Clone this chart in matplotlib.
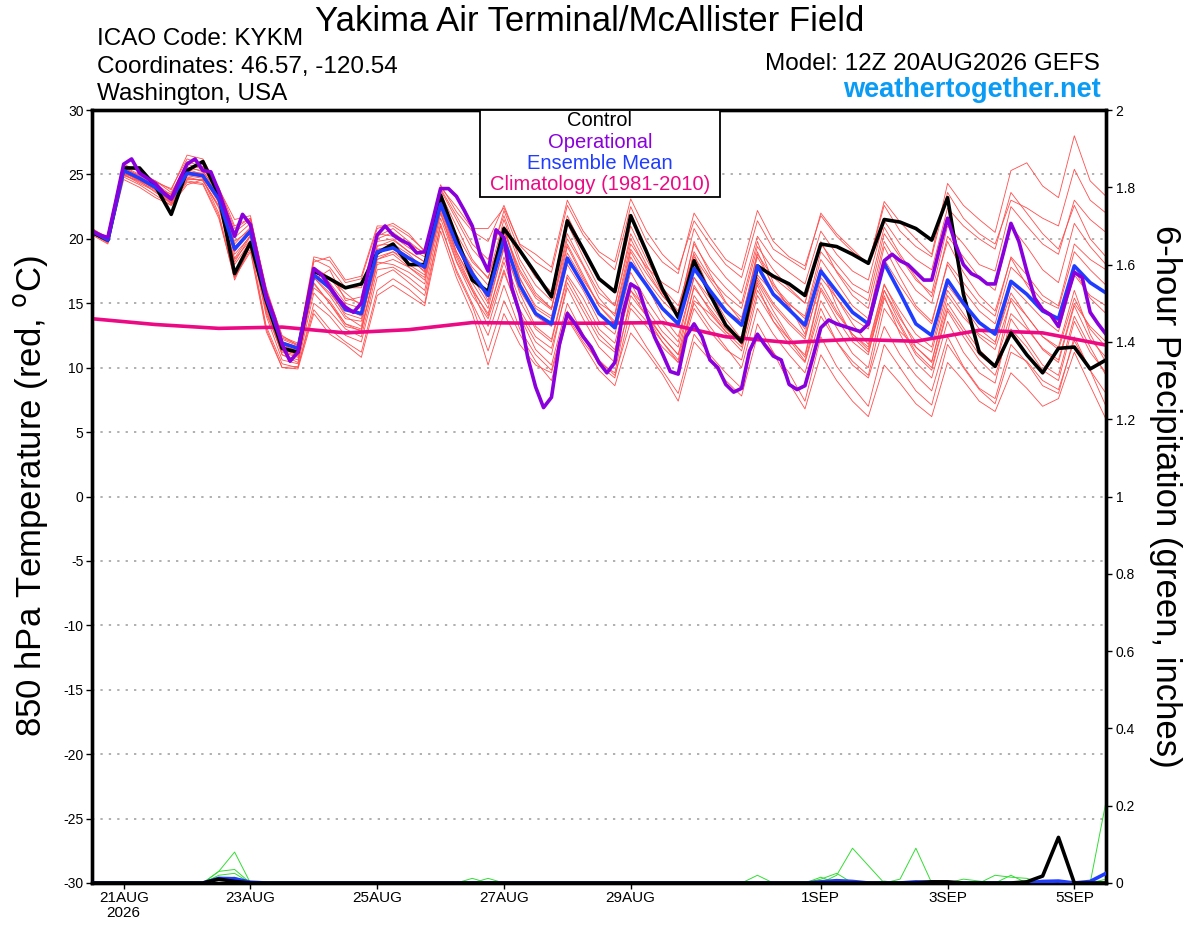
import numpy as np
import matplotlib
matplotlib.use("Agg")
import matplotlib.pyplot as plt
from matplotlib.patches import Rectangle

plt.rcParams['font.family'] = ['Liberation Sans', 'DejaVu Sans']

# ---------------- data ----------------
title = "Yakima Air Terminal/McAllister Field"
info_left = ["ICAO Code: KYKM", "Coordinates: 46.57, -120.54", "Washington, USA"]
model_text = "Model: 12Z 20AUG2026 GEFS"
site_text = "weathertogether.net"

# hours since 12Z 20 Aug 2026
hours6 = [6 * k for k in range(65)]
hours3 = [3 * k for k in range(129)]
hours24 = [24 * k for k in range(17)]

tick_hours = [12, 60, 108, 156, 204, 276, 324, 372]
tick_labels = ["21AUG\n2026", "23AUG", "25AUG", "27AUG", "29AUG", "1SEP", "3SEP", "5SEP"]

control = [20.5, 19.9, 25.5, 25.5, 24.1, 21.9, 25.3, 26.0, 23.4, 17.3, 19.7, 15.2, 11.5,
           11.2, 17.5, 16.9, 16.2, 16.5, 18.9, 19.6, 18.0, 18.0, 23.4, 20.1, 16.8, 15.9,
           20.8, 19.1, 17.3, 15.5, 21.4, 19.2, 16.9, 15.9, 21.8, 19.0, 16.1, 13.9, 18.3,
           15.7, 13.3, 12.0, 17.9, 17.1, 16.5, 15.6, 19.6, 19.4, 18.8, 18.1, 21.5, 21.3,
           20.8, 19.9, 23.2, 15.7, 11.2, 10.1, 12.7, 11.0, 9.6, 11.5, 11.6, 9.9, 10.6]

ens_mean = [20.6, 19.9, 25.3, 24.7, 24.0, 23.1, 25.1, 24.9, 23.1, 19.2, 20.6, 15.4, 11.9,
            11.5, 17.2, 16.2, 14.5, 14.2, 19.0, 19.3, 18.5, 17.8, 22.7, 19.6, 17.3, 15.6,
            20.0, 16.4, 14.2, 13.4, 18.5, 16.4, 14.2, 13.1, 18.1, 16.4, 14.6, 13.4, 17.7,
            16.0, 14.4, 13.3, 17.9, 15.7, 14.5, 13.3, 17.5, 15.9, 14.3, 13.4, 18.1, 15.8,
            13.4, 12.5, 16.8, 15.0, 13.5, 12.6, 16.7, 15.7, 14.4, 13.8, 17.9, 16.6, 15.8]

operational = [20.6, 20.3, 20.1, 22.9, 25.8, 26.2, 25.1, 24.7, 24.3, 23.6, 23.1, 24.5, 25.8,
               26.2, 25.3, 25.2, 23.7, 21.9, 20.2, 21.9, 21.1, 18.3, 15.6, 13.9, 11.8, 10.5,
               11.2, 14.4, 17.7, 17.2, 16.3, 15.4, 14.7, 14.3, 15.0, 17.8, 20.3, 21.0, 20.3,
               19.9, 19.6, 18.9, 19.0, 21.4, 23.9, 23.9, 23.3, 22.2, 21.0, 18.8, 17.5, 20.7,
               20.1, 16.2, 14.2, 10.8, 8.5, 6.9, 7.7, 11.8, 14.2, 13.4, 12.4, 11.6, 10.4,
               9.6, 10.4, 14.2, 16.5, 16.1, 14.2, 12.4, 11.1, 9.7, 9.5, 12.4, 13.4, 12.4,
               10.6, 10.0, 8.7, 8.1, 8.4, 11.3, 12.6, 11.7, 10.9, 10.6, 8.7, 8.3, 8.6,
               10.8, 13.1, 13.7, 13.4, 13.2, 13.0, 12.8, 13.4, 15.9, 18.3, 18.8, 18.3, 18.0,
               17.4, 16.8, 16.8, 19.3, 21.6, 19.6, 18.0, 17.3, 17.0, 16.5, 16.5, 18.8, 21.2,
               19.8, 17.5, 15.4, 14.5, 14.1, 13.2, 15.4, 17.4, 17.0, 14.3, 13.4, 12.6]

climatology = [13.8, 13.35, 13.05, 13.15, 12.7, 12.95, 13.5, 13.45, 13.45, 13.5, 12.4,
               11.95, 12.2, 12.05, 12.9, 12.7, 11.75]

members = [
    [20.8, 20.1, 25.8, 25.2, 24.5, 23.8, 26.5, 26.2, 23.9, 21.5, 21.8, 15.9, 12.3,
     11.8, 18.6, 18.3, 16.6, 16.9, 20.8, 21.2, 20.4, 19.0, 24.2, 22.1, 20.6, 19.8,
     22.6, 19.5, 18.2, 17.4, 22.6, 20.3, 18.7, 17.6, 22.5, 19.8, 18.2, 17.3, 22.0,
     20.1, 18.4, 17.6, 22.2, 19.8, 18.6, 17.9, 21.8, 20.2, 19.0, 18.0, 22.9, 21.3,
     20.0, 18.8, 24.3, 22.6, 21.5, 20.5, 25.3, 25.9, 24.1, 23.2, 28.0, 24.5, 23.3],
    [20.3, 19.6, 24.6, 24.0, 23.2, 22.6, 24.2, 24.6, 22.0, 17.0, 19.2, 13.0, 10.0,
     10.1, 14.5, 13.0, 12.0, 11.2, 16.0, 16.9, 16.1, 15.0, 21.2, 17.4, 14.8, 11.3,
     15.2, 12.6, 10.5, 9.0, 13.8, 11.8, 9.8, 8.6, 12.7, 11.2, 9.5, 7.4, 12.0,
     10.6, 9.0, 7.8, 12.5, 11.2, 9.6, 7.4, 12.4, 10.1, 8.5, 7.0, 11.8, 10.0,
     8.2, 7.1, 11.8, 10.0, 8.3, 7.2, 11.2, 10.5, 9.0, 8.3, 12.1, 9.8, 8.0],
    [20.7, 20.0, 25.5, 24.9, 24.2, 23.3, 25.6, 25.2, 23.7, 20.1, 21.2, 15.0, 11.4,
     11.0, 16.8, 17.6, 15.2, 15.5, 20.0, 20.5, 19.6, 18.9, 23.5, 21.0, 18.4, 16.9,
     21.5, 18.0, 15.8, 14.6, 20.0, 17.9, 15.4, 14.0, 19.2, 17.3, 15.6, 14.2, 19.8,
     17.3, 15.1, 13.6, 19.0, 16.2, 14.8, 12.6, 17.6, 15.4, 13.4, 11.8, 16.5, 14.0,
     11.6, 10.5, 15.0, 13.1, 11.4, 10.2, 14.2, 13.0, 11.5, 10.6, 15.0, 13.2, 12.0],
    [20.5, 19.8, 25.0, 24.4, 23.8, 22.9, 24.8, 24.5, 22.6, 18.5, 20.3, 14.6, 11.0,
     10.4, 16.5, 15.0, 13.4, 12.8, 18.2, 18.0, 17.4, 16.5, 22.0, 18.3, 16.0, 14.2,
     18.2, 14.5, 12.4, 11.5, 16.2, 13.8, 11.6, 10.4, 15.0, 13.6, 12.0, 10.6, 15.6,
     13.8, 12.6, 11.3, 16.0, 14.0, 12.2, 10.5, 15.2, 13.1, 11.1, 10.0, 15.4, 13.2,
     11.0, 9.8, 14.4, 12.4, 10.6, 9.4, 13.0, 11.6, 9.8, 9.0, 13.6, 11.2, 9.6],
    [20.6, 20.0, 25.2, 24.6, 23.9, 23.5, 26.0, 25.6, 23.4, 20.5, 21.5, 16.0, 12.2,
     11.7, 17.8, 17.0, 15.8, 14.8, 20.4, 20.2, 19.3, 18.6, 23.8, 21.5, 19.2, 17.8,
     22.2, 19.0, 17.0, 15.9, 21.8, 19.3, 17.0, 15.8, 21.0, 18.4, 16.2, 14.8, 18.8,
     16.0, 13.8, 12.2, 16.4, 13.6, 11.8, 10.4, 14.6, 12.0, 10.2, 9.2, 13.2, 11.0,
     9.4, 8.2, 12.4, 10.1, 8.4, 7.6, 11.8, 10.4, 8.6, 8.0, 12.4, 9.8, 7.0],
    [20.4, 19.7, 24.9, 24.5, 23.6, 22.8, 24.5, 24.3, 21.8, 16.8, 19.5, 13.2, 10.3,
     10.0, 15.0, 14.0, 12.5, 12.0, 17.0, 17.6, 16.6, 15.6, 21.0, 17.6, 15.0, 12.5,
     16.4, 13.0, 11.0, 9.8, 14.4, 12.4, 10.2, 9.2, 14.6, 13.2, 11.6, 10.4, 15.2,
     14.2, 12.8, 12.0, 17.2, 15.8, 14.9, 14.0, 19.0, 17.5, 16.0, 15.2, 20.4, 18.6,
     16.8, 15.8, 21.0, 19.6, 18.0, 17.5, 22.5, 21.0, 19.6, 18.8, 23.0, 21.5, 20.5],
    [20.7, 20.1, 25.6, 25.0, 24.3, 23.4, 25.4, 25.0, 23.0, 19.0, 20.8, 15.8, 12.0,
     11.6, 17.4, 16.0, 14.0, 13.2, 19.4, 19.9, 19.0, 18.2, 23.2, 20.0, 17.6, 15.2,
     20.6, 17.4, 15.4, 14.5, 19.6, 17.2, 14.8, 13.4, 18.6, 16.4, 14.0, 12.4, 17.0,
     15.4, 14.4, 13.6, 18.8, 17.0, 16.0, 15.0, 19.6, 18.0, 16.5, 15.8, 20.9, 18.8,
     17.0, 15.5, 19.8, 17.4, 15.6, 14.4, 18.5, 16.4, 14.6, 13.6, 17.6, 15.4, 14.2],
    [20.5, 19.9, 25.1, 24.6, 24.1, 23.0, 25.0, 24.8, 22.8, 18.2, 20.2, 14.2, 11.2,
     10.8, 17.0, 15.6, 13.8, 13.6, 18.6, 19.0, 18.0, 17.2, 22.4, 19.0, 16.6, 14.6,
     19.4, 15.8, 13.2, 12.2, 17.2, 15.4, 13.0, 11.9, 16.6, 14.2, 12.4, 11.0, 15.0,
     13.2, 11.6, 10.0, 14.6, 12.6, 11.0, 9.6, 14.0, 12.0, 10.5, 9.4, 14.6, 12.8,
     11.6, 10.4, 15.6, 13.9, 12.6, 11.8, 16.4, 15.1, 13.8, 12.8, 17.2, 15.6, 14.8],
    [20.6, 19.8, 25.4, 24.8, 24.2, 23.2, 25.3, 24.8, 23.5, 19.6, 20.9, 15.2, 11.8,
     11.2, 17.6, 16.6, 15.0, 14.6, 19.5, 19.6, 18.8, 17.6, 23.0, 19.8, 17.8, 16.4,
     20.8, 16.9, 14.8, 14.0, 18.9, 16.8, 15.0, 14.2, 19.6, 17.8, 16.6, 15.8, 20.8,
     18.6, 17.0, 15.8, 20.2, 18.4, 17.4, 16.5, 20.6, 18.8, 17.5, 16.8, 21.4, 19.6,
     18.4, 17.6, 22.4, 21.0, 20.0, 19.2, 23.6, 22.0, 20.4, 19.2, 22.6, 20.0, 18.6],
    [20.4, 19.8, 25.0, 24.3, 23.7, 22.7, 24.6, 24.6, 22.4, 18.0, 19.8, 14.0, 10.6,
     10.3, 15.8, 14.4, 13.0, 12.4, 17.6, 17.8, 17.0, 16.0, 21.6, 18.2, 15.6, 13.8,
     17.6, 14.0, 11.4, 10.2, 15.0, 12.6, 10.6, 9.4, 13.6, 11.6, 9.8, 8.0, 12.6,
     11.0, 9.6, 8.4, 13.4, 11.2, 8.8, 6.8, 11.0, 9.0, 7.4, 6.2, 10.2, 8.8,
     7.2, 6.2, 10.4, 9.0, 7.4, 6.6, 9.6, 8.4, 7.0, 7.6, 11.2, 8.6, 6.0],
    [20.8, 20.0, 25.7, 25.3, 24.4, 23.9, 26.2, 25.8, 24.0, 21.0, 21.6, 16.2, 12.4,
     11.9, 18.2, 18.6, 16.8, 17.1, 21.0, 21.0, 20.2, 19.1, 24.0, 22.5, 20.8, 20.8,
     22.4, 19.6, 18.8, 17.8, 23.0, 20.6, 19.0, 18.2, 23.1, 20.6, 18.8, 17.6, 21.4,
     19.6, 18.0, 17.0, 21.4, 19.2, 18.4, 17.6, 22.0, 20.4, 19.2, 18.0, 22.6, 20.6,
     19.4, 18.6, 23.6, 21.6, 20.4, 19.6, 23.0, 22.4, 21.6, 21.0, 25.4, 23.0, 22.0],
    [20.5, 19.7, 24.8, 24.2, 23.4, 22.6, 24.4, 24.2, 21.6, 17.0, 19.0, 12.8, 10.0,
     9.9, 14.2, 12.6, 11.8, 10.8, 15.6, 16.4, 15.6, 14.8, 20.6, 17.0, 14.2, 10.2,
     14.2, 11.8, 10.2, 9.6, 14.0, 12.0, 10.4, 9.6, 15.6, 14.0, 12.4, 11.0, 16.4,
     14.4, 12.8, 11.6, 16.6, 14.4, 12.4, 10.8, 16.0, 13.8, 12.0, 11.0, 16.0, 13.4,
     11.2, 10.0, 14.6, 12.8, 11.0, 10.0, 15.4, 14.0, 12.4, 11.6, 16.0, 12.6, 10.4],
    [20.6, 19.9, 25.2, 24.5, 24.0, 23.3, 25.2, 25.1, 23.2, 19.8, 20.7, 15.6, 11.6,
     11.3, 17.3, 16.4, 14.6, 14.0, 19.2, 19.4, 18.6, 17.4, 22.8, 19.4, 17.0, 15.0,
     19.2, 16.0, 14.0, 13.2, 18.0, 16.0, 13.6, 12.6, 17.4, 15.2, 13.4, 12.0, 17.0,
     15.0, 13.2, 11.8, 16.8, 14.8, 13.4, 12.2, 17.0, 15.4, 13.8, 13.0, 18.4, 16.4,
     14.6, 13.4, 18.2, 16.6, 15.0, 14.0, 18.6, 17.2, 15.6, 14.8, 19.6, 18.4, 17.6],
    [20.7, 20.0, 25.5, 24.9, 24.5, 23.6, 25.8, 25.4, 23.8, 20.8, 21.6, 16.0, 12.5,
     11.7, 18.4, 17.8, 16.2, 16.2, 20.2, 20.8, 19.8, 18.8, 23.9, 21.8, 19.6, 18.4,
     21.8, 18.4, 16.4, 15.2, 21.2, 18.6, 16.2, 14.8, 20.4, 18.0, 15.8, 14.4, 19.6,
     17.6, 16.2, 15.0, 19.8, 16.6, 14.6, 13.0, 17.8, 14.8, 12.4, 11.2, 15.6, 12.6,
     10.4, 9.2, 13.6, 11.2, 9.6, 8.8, 13.8, 12.0, 10.2, 9.4, 14.0, 11.6, 9.4],
    [20.5, 19.9, 25.0, 24.8, 24.1, 23.0, 25.5, 25.3, 23.3, 19.4, 20.4, 15.1, 11.6,
     11.4, 17.0, 15.8, 14.2, 13.8, 18.4, 19.0, 18.4, 17.5, 22.5, 19.0, 16.8, 15.8,
     21.0, 17.0, 14.6, 13.8, 19.4, 17.0, 14.8, 13.6, 19.0, 16.8, 15.2, 14.0, 18.6,
     16.8, 15.0, 13.9, 18.6, 16.4, 15.0, 13.8, 18.4, 16.6, 14.8, 13.8, 19.4, 17.0,
     14.8, 13.6, 18.0, 16.0, 14.4, 13.4, 17.8, 16.6, 15.2, 14.6, 19.0, 17.6, 16.4],
    [20.6, 19.8, 25.3, 24.6, 23.8, 22.8, 24.9, 24.7, 22.9, 18.8, 20.2, 14.8, 11.3,
     10.9, 16.2, 15.2, 13.4, 13.0, 18.0, 18.4, 17.8, 17.0, 22.2, 18.8, 16.2, 14.0,
     18.6, 15.2, 13.0, 12.0, 17.0, 14.8, 12.6, 11.4, 16.0, 14.6, 12.8, 11.6, 16.2,
     14.6, 13.0, 12.0, 17.0, 15.0, 13.6, 12.4, 16.6, 14.4, 12.6, 11.6, 16.4, 14.4,
     12.6, 11.6, 16.4, 14.8, 13.0, 12.0, 15.8, 14.0, 12.4, 11.4, 15.4, 13.0, 11.6],
    [20.7, 20.0, 25.4, 24.7, 24.0, 23.2, 25.1, 24.9, 23.1, 19.3, 20.6, 15.5, 12.0,
     11.6, 17.6, 17.0, 15.4, 15.0, 19.8, 20.0, 19.0, 18.2, 23.0, 20.4, 18.2, 17.0,
     20.6, 17.6, 15.6, 14.6, 20.4, 18.0, 15.8, 14.8, 20.0, 17.6, 15.6, 14.2, 19.0,
     17.0, 15.6, 14.6, 19.4, 17.6, 16.2, 15.0, 19.8, 17.4, 15.6, 14.6, 19.8, 17.8,
     16.0, 15.0, 20.2, 18.6, 17.0, 16.0, 21.0, 19.4, 17.6, 16.6, 21.2, 19.4, 18.0],
    [20.4, 19.7, 25.1, 24.5, 23.9, 22.9, 24.7, 24.5, 22.5, 18.4, 19.9, 14.4, 11.0,
     10.6, 16.6, 15.0, 13.2, 12.9, 18.4, 18.8, 17.8, 16.8, 22.0, 18.6, 16.0, 13.2,
     17.4, 14.2, 12.0, 11.0, 16.6, 14.4, 12.2, 11.2, 16.0, 14.0, 12.0, 10.4, 14.6,
     12.8, 11.4, 10.6, 15.6, 13.6, 12.2, 11.0, 16.2, 14.2, 12.6, 11.4, 16.0, 13.8,
     12.0, 11.2, 16.0, 14.2, 12.4, 11.4, 15.2, 13.2, 11.4, 10.4, 14.8, 12.2, 10.8],
]

def zeros_with(d):
    return [d.get(k, 0.0) for k in range(65)]

precip_control = zeros_with({8: 0.01, 9: 0.004, 53: 0.003, 54: 0.003, 59: 0.003, 60: 0.018, 61: 0.118})
precip_mean = zeros_with({8: 0.012, 9: 0.011, 10: 0.002, 46: 0.003, 47: 0.006, 48: 0.004,
                          52: 0.003, 53: 0.002, 60: 0.004, 61: 0.005, 63: 0.004, 64: 0.025})
precip_members = [
    zeros_with({8: 0.03, 9: 0.08}),
    zeros_with({8: 0.03, 9: 0.035, 42: 0.02}),
    zeros_with({8: 0.02, 9: 0.025, 24: 0.012, 47: 0.02, 48: 0.09, 49: 0.045}),
    zeros_with({25: 0.012, 46: 0.01, 47: 0.025, 51: 0.01, 52: 0.09, 57: 0.02, 58: 0.015, 59: 0.012}),
    zeros_with({46: 0.015, 55: 0.01, 56: 0.005, 58: 0.02, 64: 0.21}),
    zeros_with({8: 0.01, 9: 0.015, 50: 0.005, 64: 0.01}),
]

legend_items = [("Control", "#000000"), ("Operational", "#8a00dc"),
                ("Ensemble Mean", "#1f3cff"), ("Climatology (1981-2010)", "#ec0a84")]

# ---------------- figure ----------------
W, H = 1200, 927
fig = plt.figure(figsize=(W / 100, H / 100), dpi=100)
ax = fig.add_axes([92 / W, 1 - 883 / H, (1106 - 92) / W, (883 - 110) / H])

for m in members:
    ax.plot(hours6, m, color="#ff4d4d", lw=0.6, zorder=2)
ax.plot(hours24, climatology, color="#ec0a84", lw=2.6, zorder=3)
ax.plot(hours6, control, color="#000000", lw=2.6, zorder=4)
ax.plot(hours6, ens_mean, color="#1f3cff", lw=2.6, zorder=5)
ax.plot(hours3, operational, color="#8a00dc", lw=2.6, zorder=6)

ax.set_xlim(0, 384)
ax.set_ylim(-30, 30)
ax.set_yticks(range(-30, 31, 5))
ax.set_yticklabels([str(v) for v in range(-30, 31, 5)], fontsize=10)
ax.set_xticks(tick_hours)
ax.set_xticklabels(tick_labels, fontsize=11, linespacing=1.1)
for yv in range(-25, 30, 5):
    ax.axhline(yv, color="#9a9a9a", lw=1.1, ls=(0, (1.5, 4)), zorder=1)
for s in ax.spines.values():
    s.set_linewidth(2.4)
ax.tick_params(axis="both", direction="out", length=4, width=1, pad=2)
ax.set_ylabel("850 hPa Temperature (red, $^{\\mathrm{o}}$C)", fontsize=25, labelpad=10)

ax2 = ax.twinx()
ax2.set_ylim(0, 2)
ax2.set_yticks([0, 0.2, 0.4, 0.6, 0.8, 1.0, 1.2, 1.4, 1.6, 1.8, 2.0])
ax2.set_yticklabels(["0", "0.2", "0.4", "0.6", "0.8", "1", "1.2", "1.4", "1.6", "1.8", "2"], fontsize=10)
ax2.tick_params(axis="y", direction="out", length=4, width=1, pad=3)
for pm in precip_members:
    ax2.plot(hours6, pm, color="#33dd33", lw=0.7, zorder=2)
ax2.plot(hours6, precip_mean, color="#1f3cff", lw=2.6, zorder=3)
ax2.plot(hours6, precip_control, color="#000000", lw=2.6, zorder=4)
for s in ax2.spines.values():
    s.set_linewidth(2.4)
ax2.set_ylabel("6-hour Precipitation (green, inches)", fontsize=25, rotation=270, labelpad=34)

# ---------------- texts ----------------
fig.text(590 / W, 1 - 31 / H, title, ha="center", va="baseline", fontsize=25)
for k, yy in enumerate([39, 67, 94]):
    fig.text(97 / W, 1 - yy / H, info_left[k], ha="left", va="center", fontsize=17.5)
fig.text(1100 / W, 1 - 64 / H, model_text, ha="right", va="center", fontsize=17.5)
fig.text(1101 / W, 1 - 90 / H, site_text, ha="right", va="center", fontsize=19.5,
         fontweight="bold", color="#0a9cf5")

# legend box
fig.patches.append(Rectangle((480 / W, 1 - 197 / H), 240 / W, 87 / H, transform=fig.transFigure,
                             facecolor="white", edgecolor="black", lw=1.3, zorder=5))
for k, (lab, col) in enumerate(legend_items):
    fig.text(600 / W, 1 - (121 + 21.3 * k) / H, lab, ha="center", va="center",
             fontsize=14.5, color=col, zorder=6)

fig.savefig("out.png", dpi=100)
